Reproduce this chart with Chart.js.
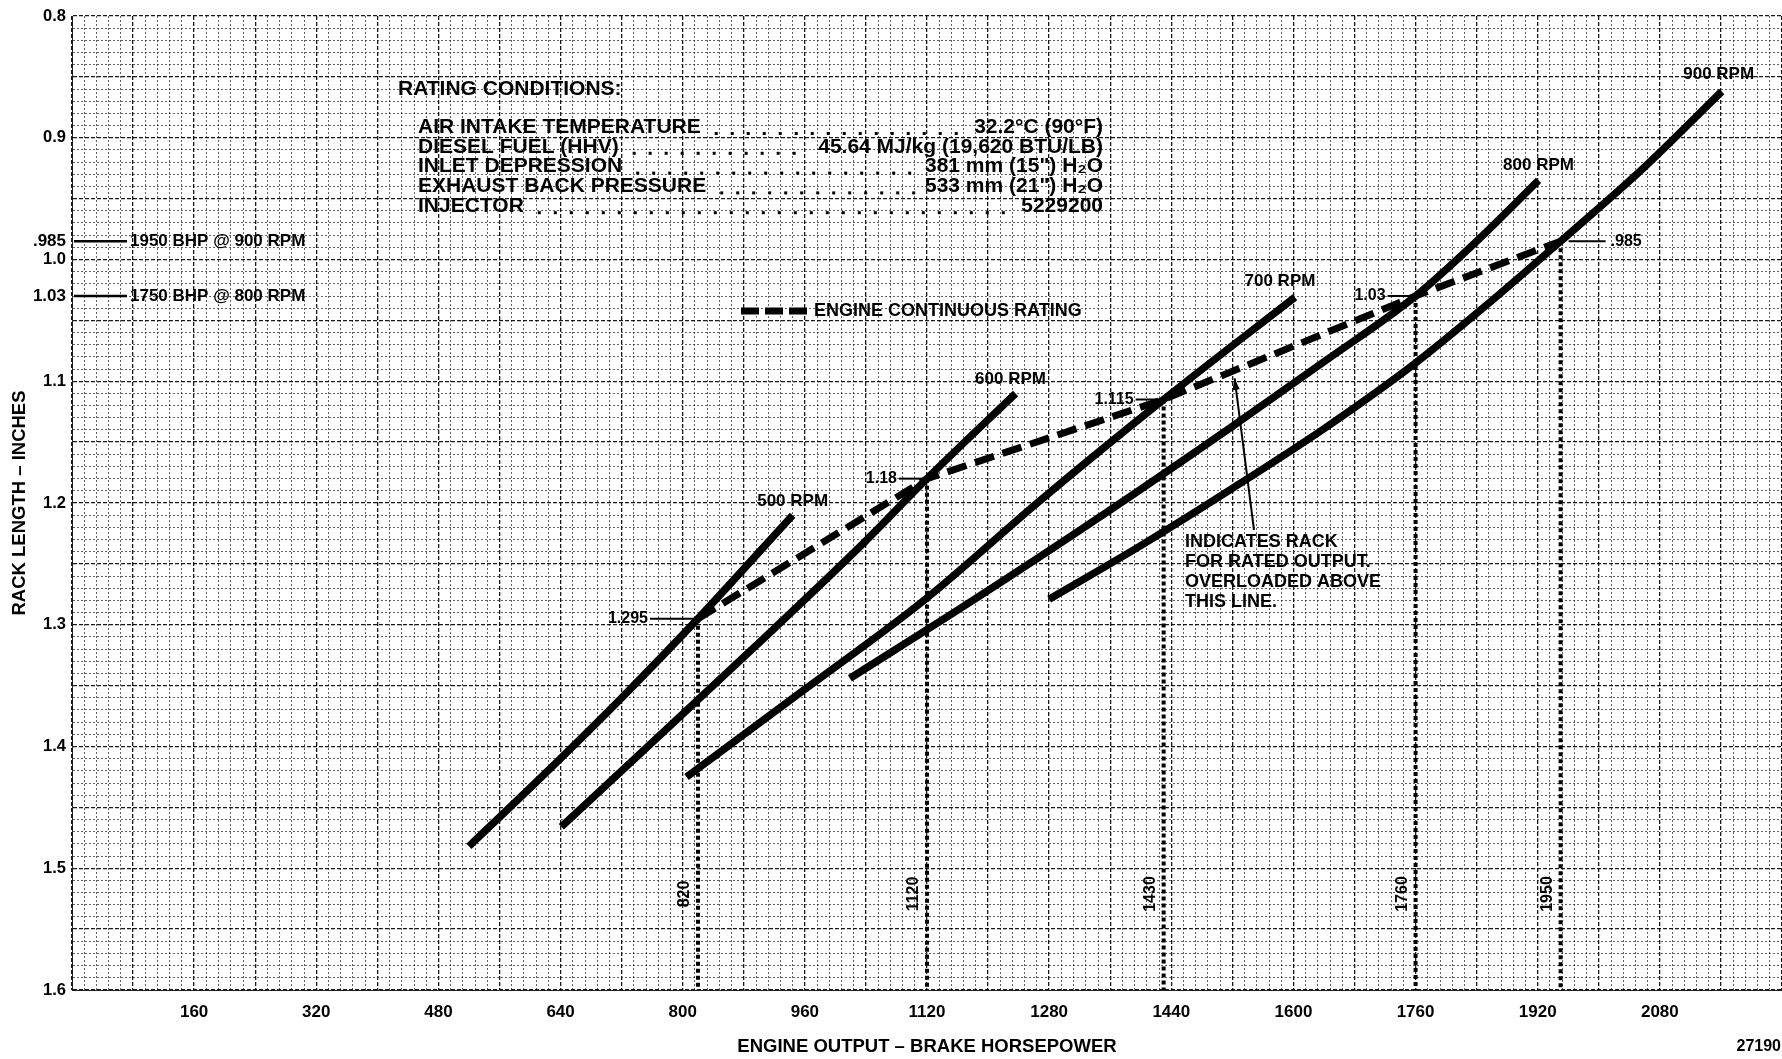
<!DOCTYPE html>
<html>
<head>
<meta charset="utf-8">
<script src="https://cdn.jsdelivr.net/npm/chart.js@4/dist/chart.umd.min.js"></script>
<style>
  html, body { margin: 0; padding: 0; background: #fff; overflow: hidden; }
  canvas { display: block; }
</style>
</head>
<body>
<canvas id="c" width="1782" height="1059"></canvas>
<script>
// ---------------- DATA ----------------
const rpmNames = ['500 RPM', '600 RPM', '700 RPM', '800 RPM', '900 RPM'];

const hp500   = [520, 620, 720, 820, 944];
const rack500 = [1.482, 1.422, 1.360, 1.295, 1.210];

const hp600   = [641, 780, 920, 1040, 1120, 1236];
const rack600 = [1.466, 1.385, 1.303, 1.231, 1.18, 1.11];

const hp700   = [805, 960, 1116, 1270, 1430, 1602];
const rack700 = [1.425, 1.353, 1.28, 1.197, 1.115, 1.031];

const hp800   = [1019, 1180, 1345, 1520, 1640, 1760, 1840, 1921];
const rack800 = [1.344, 1.280, 1.212, 1.137, 1.084, 1.03, 0.985, 0.935];

const hp900   = [1280, 1400, 1520, 1640, 1760, 1850, 1950, 2060, 2161];
const rack900 = [1.279, 1.235, 1.188, 1.139, 1.085, 1.039, 0.985, 0.924, 0.862];

// Engine continuous rating (dashed)
const ratedHP     = [820, 1120, 1430, 1760, 1950];
const ratedRack   = [1.295, 1.18, 1.115, 1.03, 0.985];
const ratedLabels = ['1.295', '1.18', '1.115', '1.03', '.985'];
const ratedHPText = ['820', '1120', '1430', '1760', '1950'];

// axis ticks
const hpTickLabels   = [160, 320, 480, 640, 800, 960, 1120, 1280, 1440, 1600, 1760, 1920, 2080];
const rackTickLabels = [0.8, 0.9, 1.0, 1.1, 1.2, 1.3, 1.4, 1.5, 1.6];

// left side notes
const noteRack  = [0.985, 1.03];
const noteTick  = ['.985', '1.03'];
const noteText  = ['1950 BHP @ 900 RPM', '1750 BHP @ 800 RPM'];

// rating conditions
const condTitle  = 'RATING CONDITIONS:';
const condNames  = ['AIR INTAKE TEMPERATURE', 'DIESEL FUEL (HHV)', 'INLET DEPRESSION', 'EXHAUST BACK PRESSURE', 'INJECTOR'];
const condValues = ['32.2°C (90°F)', '45.64 MJ/kg (19,620 BTU/LB)', '381 mm (15") H₂O', '533 mm (21") H₂O', '5229200'];

const legendText = 'ENGINE CONTINUOUS RATING';
const noteLines  = ['INDICATES RACK', 'FOR RATED OUTPUT.', 'OVERLOADED ABOVE', 'THIS LINE.'];
const figNumber  = '27190';

// ---------------- BUILD ----------------
const FONT = "'Liberation Sans', Arial, sans-serif";
const pts = (xs, ys) => xs.map((v, i) => ({ x: v, y: ys[i] }));

const curveSets = [
  pts(hp500, rack500), pts(hp600, rack600), pts(hp700, rack700),
  pts(hp800, rack800), pts(hp900, rack900)
];

const datasets = [];
ratedHP.forEach((h, i) => {
  datasets.push({
    label: 'drop ' + ratedHPText[i],
    data: [{ x: h, y: ratedRack[i] }, { x: h, y: 1.6 }],
    borderColor: '#000', borderWidth: 4, borderDash: [4, 3],
    pointRadius: 0, tension: 0, borderCapStyle: 'butt'
  });
});
curveSets.forEach((d, i) => {
  datasets.push({
    label: rpmNames[i], data: d,
    borderColor: '#000', borderWidth: 7.5, pointRadius: 0,
    cubicInterpolationMode: 'monotone', borderCapStyle: 'butt', borderJoinStyle: 'round'
  });
});
datasets.push({
  label: legendText, data: pts(ratedHP, ratedRack),
  borderColor: '#000', borderWidth: 7, borderDash: [20, 9],
  pointRadius: 0, tension: 0, borderCapStyle: 'butt'
});

const annot = {
  id: 'annot',
  afterDatasetsDraw(chart) {
    const { ctx, scales: { x, y } } = chart;
    const F = s => `bold ${s}px ${FONT}`;
    ctx.save();
    ctx.fillStyle = '#000';
    ctx.strokeStyle = '#000';
    ctx.textBaseline = 'middle';

    // Rating conditions block
    ctx.font = F(21);
    ctx.textAlign = 'left';
    ctx.fillText(condTitle, 398, 89);
    condNames.forEach((n, i) => {
      const yy = 127 + i * 19.8;
      ctx.textAlign = 'left';
      ctx.fillText(n, 418, yy);
      const nw = ctx.measureText(n).width;
      ctx.textAlign = 'right';
      ctx.fillText(condValues[i], 1103, yy);
      const vw = ctx.measureText(condValues[i]).width;
      const start = 418 + nw + 14, end = 1103 - vw - 10;
      for (let dx = start; dx <= end; dx += 16) ctx.fillRect(dx, yy + 5, 3, 3);
    });

    // Legend
    ctx.lineWidth = 7;
    ctx.lineCap = 'butt';
    [[741, 759], [765, 783], [789, 807]].forEach(([a, b]) => {
      ctx.beginPath(); ctx.moveTo(a, 311); ctx.lineTo(b, 311); ctx.stroke();
    });
    ctx.font = F(18);
    ctx.textAlign = 'left';
    ctx.fillText(legendText, 814, 311);

    // Curve labels at the top end of each curve
    const offs = [[0, -14], [-5, -14], [-15, -16], [0, -15], [-3, -17]];
    ctx.font = F(17);
    ctx.textAlign = 'center';
    curveSets.forEach((d, i) => {
      const last = d[d.length - 1];
      ctx.fillText(rpmNames[i], x.getPixelForValue(last.x) + offs[i][0], y.getPixelForValue(last.y) + offs[i][1]);
    });

    // Rated point labels with leaders
    ctx.font = F(16);
    ctx.lineWidth = 2;
    ratedHP.forEach((h, i) => {
      const px = x.getPixelForValue(h), py = y.getPixelForValue(ratedRack[i]);
      ctx.beginPath();
      if (i === 4) {
        ctx.moveTo(px + 8, py); ctx.lineTo(px + 45, py); ctx.stroke();
        ctx.textAlign = 'left';
        ctx.fillText(ratedLabels[i], px + 50, py);
      } else {
        const gap = i === 0 ? 48 : 28;
        ctx.moveTo(px - gap, py); ctx.lineTo(px - 3, py); ctx.stroke();
        ctx.textAlign = 'right';
        ctx.fillText(ratedLabels[i], px - gap - 2, py);
      }
      // rotated HP label near the bottom
      ctx.save();
      ctx.translate(px - 13, 894);
      ctx.rotate(-Math.PI / 2);
      ctx.textAlign = 'center';
      ctx.fillText(ratedHPText[i], 0, 0);
      ctx.restore();
    });

    // Left side notes
    ctx.font = F(17);
    noteRack.forEach((r, i) => {
      const py = y.getPixelForValue(r);
      ctx.textAlign = 'right';
      ctx.fillText(noteTick[i], 66, py);
      ctx.lineWidth = 2.5;
      ctx.beginPath(); ctx.moveTo(74, py); ctx.lineTo(127, py); ctx.stroke();
      ctx.textAlign = 'left';
      ctx.fillText(noteText[i], 130, py);
    });

    // Overload note and arrow
    ctx.font = F(18);
    ctx.textAlign = 'left';
    noteLines.forEach((t, i) => ctx.fillText(t, 1185, 542 + i * 20));
    const tipX = x.getPixelForValue(1523);
    const tipY = y.getPixelForValue(1.115 - (1523 - 1430) / 330 * 0.085) + 8;
    ctx.lineWidth = 2;
    ctx.beginPath(); ctx.moveTo(1254, 530); ctx.lineTo(tipX, tipY); ctx.stroke();
    const ang = Math.atan2(tipY - 530, tipX - 1254);
    ctx.beginPath();
    ctx.moveTo(tipX, tipY);
    ctx.lineTo(tipX - 12 * Math.cos(ang - 0.3), tipY - 12 * Math.sin(ang - 0.3));
    ctx.lineTo(tipX - 12 * Math.cos(ang + 0.3), tipY - 12 * Math.sin(ang + 0.3));
    ctx.closePath(); ctx.fill();

    // figure number
    ctx.font = F(16);
    ctx.textAlign = 'right';
    ctx.fillText(figNumber, 1781, 1047);
    ctx.restore();
  }
};

const isMajorX = v => Math.round(v) % 80 === 0;
const isMajorY = v => Math.round(v * 100) % 5 === 0;

new Chart(document.getElementById('c'), {
  type: 'line',
  data: { datasets },
  options: {
    responsive: false,
    animation: false,
    devicePixelRatio: 1,
    layout: { padding: { top: 16, right: 0, bottom: 0, left: 0 } },
    plugins: { legend: { display: false }, tooltip: { enabled: false } },
    scales: {
      x: {
        type: 'linear', min: 0, max: 2240,
        afterFit(s) { s.height = 69; s.paddingLeft = 0; s.paddingRight = 0; },
        ticks: {
          stepSize: 16, autoSkip: false, maxRotation: 0, padding: 0,
          color: '#000', font: { family: FONT, size: 17, weight: 'bold' },
          callback: v => hpTickLabels.includes(Math.round(v)) ? String(Math.round(v)) : ''
        },
        grid: {
          drawTicks: true, tickLength: 12, tickColor: 'rgba(0,0,0,0)',
          color: c => isMajorX(c.tick.value) ? 'rgba(0,0,0,0.9)' : 'rgba(30,30,30,0.7)',
          lineWidth: c => isMajorX(c.tick.value) ? 1.3 : 1
        },
        border: {
          color: 'rgba(0,0,0,0.85)',
          dash: c => isMajorX(c.tick.value) ? [4, 2] : [2, 2]
        },
        title: {
          display: true, text: 'ENGINE OUTPUT – BRAKE HORSEPOWER', color: '#000',
          font: { family: FONT, size: 18.5, weight: 'bold' }, padding: { top: 0, bottom: 1 }
        }
      },
      y: {
        type: 'linear', min: 0.8, max: 1.6, reverse: true,
        afterFit(s) { s.width = 72; },
        ticks: {
          stepSize: 0.01, autoSkip: false, padding: 6,
          color: '#000', font: { family: FONT, size: 16.5, weight: 'bold' },
          callback: v => {
            const k = Math.round(v * 100);
            return rackTickLabels.some(t => Math.round(t * 100) === k) ? (k / 100).toFixed(1) : '';
          }
        },
        grid: {
          drawTicks: false,
          color: c => isMajorY(c.tick.value) ? 'rgba(0,0,0,0.9)' : 'rgba(30,30,30,0.7)',
          lineWidth: c => isMajorY(c.tick.value) ? 1.3 : 1
        },
        border: {
          color: 'rgba(0,0,0,0.85)',
          dash: c => isMajorY(c.tick.value) ? [4, 2] : [2, 2]
        },
        title: {
          display: true, text: 'RACK LENGTH – INCHES', color: '#000',
          font: { family: FONT, size: 18.5, weight: 'bold' }, padding: { top: 9, bottom: 0 }
        }
      }
    }
  },
  plugins: [annot]
});
</script>
</body>
</html>
